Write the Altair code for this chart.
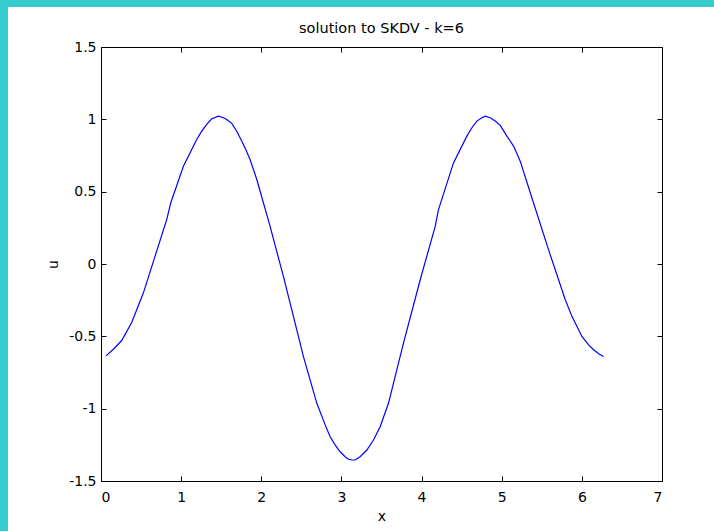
import altair as alt
import pandas as pd

# data
x_vals = [0.062, 0.154, 0.258, 0.383, 0.528, 0.674, 0.820, 0.870, 1.028, 1.194,
          1.257, 1.319, 1.382, 1.465, 1.527, 1.569, 1.632, 1.694, 1.757, 1.806,
          1.860, 1.944, 2.110, 2.276, 2.443, 2.526, 2.693, 2.797, 2.859, 2.921,
          2.984, 3.046, 3.088, 3.130, 3.171, 3.233, 3.317, 3.400, 3.483, 3.587,
          3.774, 3.983, 4.170, 4.211, 4.398, 4.565, 4.628, 4.690, 4.753, 4.794,
          4.856, 4.919, 4.981, 5.065, 5.148, 5.231, 5.397, 5.584, 5.793, 5.876,
          6.001, 6.084, 6.147, 6.209, 6.272]
u_vals = [-0.635, -0.589, -0.529, -0.404, -0.201, 0.053, 0.307, 0.422, 0.676, 0.861,
          0.918, 0.965, 1.004, 1.022, 1.011, 0.999, 0.972, 0.918, 0.849, 0.791,
          0.722, 0.584, 0.260, -0.086, -0.455, -0.640, -0.963, -1.112, -1.194, -1.250,
          -1.298, -1.332, -1.350, -1.355, -1.355, -1.332, -1.286, -1.217, -1.125, -0.963,
          -0.547, -0.109, 0.260, 0.376, 0.699, 0.884, 0.942, 0.988, 1.011, 1.022,
          1.011, 0.988, 0.958, 0.884, 0.815, 0.711, 0.422, 0.099, -0.247, -0.362,
          -0.501, -0.559, -0.593, -0.621, -0.640]
x_ticks = [0, 1, 2, 3, 4, 5, 6, 7]
y_ticks = [-1.5, -1, -0.5, 0, 0.5, 1, 1.5]
title_text = ["solution to SKDV - k=6"]

df = pd.DataFrame({"x": x_vals, "u": u_vals})

FONT = "DejaVu Sans"
TEAL = "#35CDCD"
W, H = 561, 434
PL, PT, PR, PB = 101, 47, 52, 50

xs = alt.Scale(domain=[0, 7], nice=False, zero=False)
ys = alt.Scale(domain=[-1.5, 1.5], nice=False, zero=False)

common = dict(grid=False, domain=False, tickColor="black", tickWidth=1, tickSize=5,
              offset=-5, labelFont=FONT, labelFontSize=14, labelColor="black",
              zindex=1, labelExpr="toString(datum.value)")

line = alt.Chart(df).mark_line(color="#0000FF", strokeWidth=1.2).encode(
    x=alt.X("x:Q", scale=xs, axis=alt.Axis(
        orient="bottom", values=x_ticks, title="x", titleFont=FONT, titleFontSize=14,
        titleFontWeight="normal", titleColor="black", titleBaseline="alphabetic",
        titleY=44, labelPadding=9, **common)),
    y=alt.Y("u:Q", scale=ys, axis=alt.Axis(
        orient="left", values=y_ticks, title="u", titleFont=FONT, titleFontSize=14,
        titleFontWeight="normal", titleColor="black", titleBaseline="alphabetic",
        titleX=-49, titleY=H / 2, titleAngle=270, labelPadding=5, **common)),
)

mirror = alt.Chart(df).mark_line(strokeOpacity=0).encode(
    x=alt.X("x:Q", scale=xs, axis=alt.Axis(orient="top", values=x_ticks, labels=False,
                                           title=None, **common)),
    y=alt.Y("u:Q", scale=ys, axis=alt.Axis(orient="right", values=y_ticks, labels=False,
                                           title=None, **common)),
)

one = pd.DataFrame({"k": [0]})
left_strip = alt.Chart(one).mark_rect(color=TEAL).encode(
    x=alt.value(-PL), x2=alt.value(-PL + 8), y=alt.value(-PT), y2=alt.value(H + PB))
top_strip = alt.Chart(one).mark_rect(color=TEAL).encode(
    x=alt.value(-PL), x2=alt.value(W + PR), y=alt.value(-PT), y2=alt.value(-PT + 7))

title = alt.Chart(pd.DataFrame({"t": title_text})).mark_text(
    font=FONT, fontSize=14.5, color="black", align="center", baseline="alphabetic"
).encode(text="t:N", x=alt.value(W / 2), y=alt.value(-14))

chart = alt.layer(left_strip, top_strip, line, mirror, title).resolve_axis(
    x="independent", y="independent"
).properties(
    width=W, height=H,
    autosize=alt.AutoSizeParams(type="none"),
    padding={"left": PL, "top": PT, "right": PR, "bottom": PB},
    background="white",
).configure_view(stroke="black", strokeWidth=1)

chart.save("out.html", embed_options={"renderer": "svg", "actions": False})
